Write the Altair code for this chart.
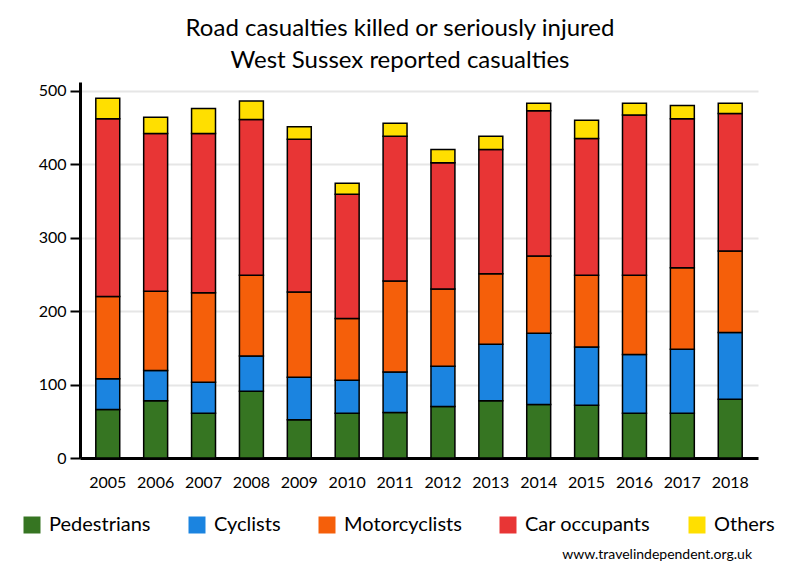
import altair as alt
import pandas as pd

years = [str(y) for y in range(2005, 2019)]
series = ["Pedestrians", "Cyclists", "Motorcyclists", "Car occupants", "Others"]
colors = ["#367522", "#1b84e0", "#f55f0a", "#e83535", "#ffdf00"]

pedestrians = [66, 78, 61, 91, 52, 61, 62, 70, 78, 73, 72, 61, 61, 80]
cyclists = [42, 41, 42, 48, 58, 45, 55, 55, 77, 97, 79, 80, 87, 91]
motorcyclists = [112, 108, 122, 110, 116, 84, 124, 105, 96, 105, 98, 108, 111, 111]
car_occupants = [242, 215, 217, 212, 208, 169, 197, 172, 169, 198, 186, 218, 203, 187]
others = [28, 22, 34, 25, 17, 15, 18, 18, 18, 10, 25, 16, 18, 14]

values = [pedestrians, cyclists, motorcyclists, car_occupants, others]
rows = []
for si, (name, vals) in enumerate(zip(series, values)):
    for y, v in zip(years, vals):
        rows.append({"year": y, "type": name, "value": v, "idx": si})
df = pd.DataFrame(rows)

FONT = "Lato"

bars = alt.Chart(df).mark_bar(stroke="black", strokeWidth=1.5).encode(
    x=alt.X("year:N", sort=years,
            scale=alt.Scale(paddingInner=0.5, paddingOuter=0.33),
            axis=alt.Axis(title=None, labelAngle=0, ticks=False, labelFontSize=16,
                          labelFont=FONT, labelColor="black", labelPadding=16,
                          domainColor="black", domainWidth=3, grid=False)),
    y=alt.Y("value:Q", stack="zero",
            scale=alt.Scale(domain=[0, 512], nice=False),
            axis=alt.Axis(title=None, values=[0, 100, 200, 300, 400, 500],
                          labelFontSize=16, labelFont=FONT, labelColor="black",
                          labelPadding=4, tickSize=10, tickWidth=2, tickColor="black",
                          domainColor="black", domainWidth=3,
                          gridColor="#e6e6e6", gridWidth=2)),
    color=alt.Color("type:N", sort=series,
                    scale=alt.Scale(domain=series, range=colors),
                    legend=alt.Legend(title=None, orient="none", direction="horizontal",
                                      legendX=-58, legendY=433,
                                      symbolType="square", symbolSize=289,
                                      symbolStrokeWidth=0, labelFontSize=20,
                                      labelFont=FONT, labelColor="black",
                                      labelOffset=7, columnPadding=36,
                                      labelLimit=300)),
    order=alt.Order("idx:Q", sort="ascending"),
)

footer = alt.Chart(alt.Data(values=[{"t": "www.travelindependent.org.uk"}])).mark_text(
    align="right", baseline="alphabetic", fontSize=14, font=FONT, color="black"
).encode(
    x=alt.value(672), y=alt.value(477), text="t:N"
)

chart = alt.layer(bars, footer).properties(
    width=678, height=376,
    title=alt.Title(["Road casualties killed or seriously injured",
                     "West Sussex reported casualties"],
                    fontSize=24, font=FONT, fontWeight="normal", color="black",
                    anchor="middle", dx=-19, dy=23, offset=13, baseline="alphabetic",
                    lineHeight=32),
    autosize=alt.AutoSizeParams(type="none"),
    padding={"left": 72, "top": 74, "right": 34, "bottom": 114},
).configure_view(stroke=None)

chart.save("out.html", embed_options={"renderer": "svg", "actions": False})
